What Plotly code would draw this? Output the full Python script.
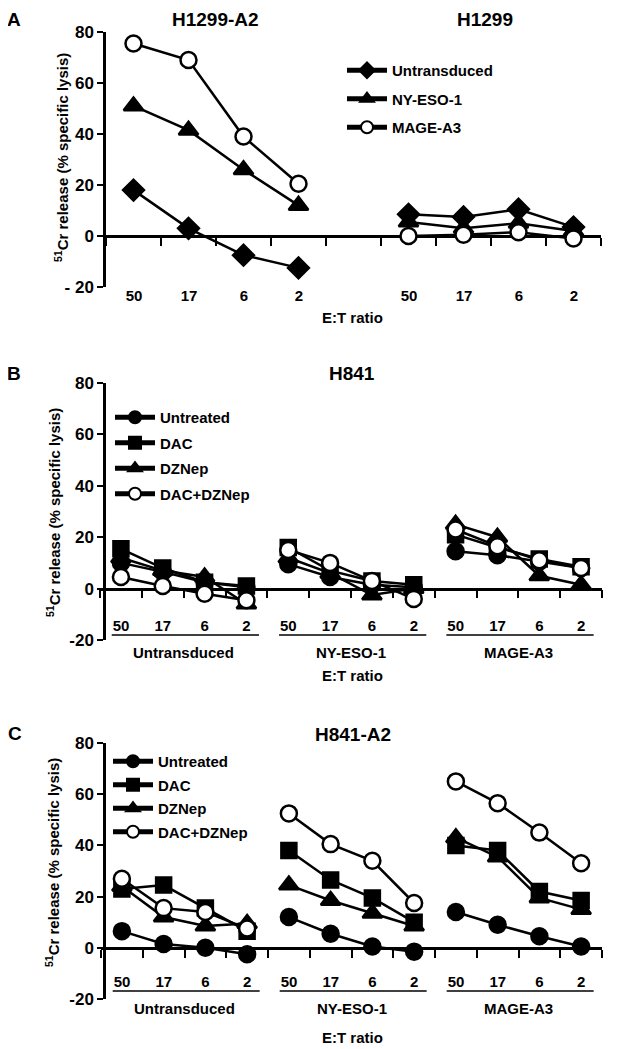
import plotly.graph_objects as go

# the page puts the figure 8px in from the window's top-left corner
OX, OY = 8, 8
FW, FH = 612, 1041
FONT = "Liberation Sans, Arial, sans-serif"

# ---- data ----
ratios = ["50", "17", "6", "2"]

# panel A
a_cells = ["H1299-A2", "H1299"]
a_series = ["Untransduced", "NY-ESO-1", "MAGE-A3"]
a_untransduced = [18, 3, -7.5, -12.5, 8.5, 7.5, 10.5, 3.5]
a_nyeso1 = [51, 41.5, 26, 12, 5.5, 3, 5, 2]
a_magea3 = [75.5, 69, 39, 20.5, 0, 0.5, 1.5, -1]

# panels B and C
groups = ["Untransduced", "NY-ESO-1", "MAGE-A3"]
treatments = ["Untreated", "DAC", "DZNep", "DAC+DZNep"]

b_untreated = [10, 6.5, 2.5, 0.5, 9.5, 4.5, 1.5, 0.5, 14.5, 13, 10.5, 8]
b_dac = [15.5, 8, 2.5, 1, 16, 7, 3, 1.5, 21, 16, 11.5, 8.5]
b_dznep = [12, 7, 4.5, -6, 12, 6, -2.5, 0, 25, 20, 5, 1.5]
b_dac_dznep = [4.5, 1, -2, -4.5, 15, 10, 3, -4, 23, 16.5, 11, 8]

c_untreated = [6.5, 1.5, 0, -2.5, 12, 5.5, 0.5, -1.5, 14, 9, 4.5, 0.5]
c_dac = [23, 24.5, 15.5, 6.5, 38, 26.5, 19.5, 10, 40, 38, 22, 18.5]
c_dznep = [24, 12, 8.5, 9.5, 24.5, 18.5, 13.5, 8.5, 43, 35.5, 19.5, 15]
c_dac_dznep = [27, 15.5, 14, 7.5, 52.5, 40.5, 34, 17.5, 65, 56.5, 45, 33]

yticks = [-20, 0, 20, 40, 60, 80]
YMIN, YMAX = -20, 80


def px_x(x):
    return (x - OX) / FW


def px_y(y):
    return 1 - (y - OY) / FH


def val_to_paper(v, dom):
    return dom[0] + (v - YMIN) / (YMAX - YMIN) * (dom[1] - dom[0])


# x positions: group g, ratio i -> slot index (panel A has an empty slot between cell lines)
a_x = [g * 5 + i for g in range(2) for i in range(4)]
bc_x = [g * 4 + i for g in range(3) for i in range(4)]
a_ticktext = ratios * 2
bc_ticktext = ratios * 3

# plot areas in window pixels: (left, right, bottom=-20, top=80)
box_a = (106, 601, 287, 32)
box_b = (100, 602, 640, 383)
box_c = (101, 602, 999, 743)


def dom(box):
    return dict(x=[px_x(box[0]), px_x(box[1])], y=[px_y(box[2]), px_y(box[3])])


sym = {"Untransduced": "diamond", "NY-ESO-1": "triangle-up", "MAGE-A3": "circle",
       "Untreated": "circle", "DAC": "square", "DZNep": "triangle-up", "DAC+DZNep": "circle"}
msize = {"diamond": 16, "triangle-up": 17, "circle": 16, "square": 15}
openmk = {"MAGE-A3", "DAC+DZNep"}

fig = go.Figure()


def add_series(xs, ys, name, xa, ya, legend, breaks):
    s = sym[name]
    fill = "white" if name in openmk else "black"
    # one line per group so the lines don't join across groups
    for k, (a, b) in enumerate(breaks):
        fig.add_trace(go.Scatter(
            x=xs[a:b], y=ys[a:b], mode="lines+markers", name=name,
            xaxis=xa, yaxis=ya, legend=legend, legendgroup=legend + name,
            showlegend=(k == 0),
            line=dict(color="black", width=2.5),
            marker=dict(symbol=s, size=msize[s], color=fill,
                        line=dict(color="black", width=2.5)),
        ))


a_breaks = [(0, 4), (4, 8)]
bc_breaks = [(0, 4), (4, 8), (8, 12)]
for name, ys in zip(a_series, [a_untransduced, a_nyeso1, a_magea3]):
    add_series(a_x, ys, name, "x", "y", "legend", a_breaks)
for name, ys in zip(treatments, [b_untreated, b_dac, b_dznep, b_dac_dznep]):
    add_series(bc_x, ys, name, "x2", "y2", "legend2", bc_breaks)
for name, ys in zip(treatments, [c_untreated, c_dac, c_dznep, c_dac_dznep]):
    add_series(bc_x, ys, name, "x3", "y3", "legend3", bc_breaks)

tickfont = dict(family=FONT, size=15, color="black", weight="bold")


def yaxis(box, neg_label):
    return dict(domain=dom(box)["y"], range=[YMIN, YMAX], showgrid=False, automargin=False,
                zeroline=False, showline=True, linecolor="black", linewidth=2.5,
                ticks="outside", ticklen=6, tickwidth=2, tickcolor="black",
                tickvals=yticks, ticktext=[neg_label] + [str(v) for v in yticks[1:]],
                tickfont=dict(tickfont, size=17), fixedrange=True)


def xaxis(box, nslots, xs, labels, label_center_px):
    # axis line sits on y=0, ticks on the slot boundaries, labels shifted to slot centres
    slot_text = [""] * nslots
    for x, t in zip(xs, labels):
        slot_text[x] = t
    d = dom(box)
    zero_px = box[3] + (YMAX - 0) / (YMAX - YMIN) * (box[2] - box[3])
    half_slot = (box[1] - box[0]) / nslots / 2
    return dict(domain=d["x"], range=[-0.5, nslots - 0.5], anchor="free",
                position=val_to_paper(0, d["y"]), layer="below traces",
                showgrid=False, zeroline=False, automargin=False, fixedrange=True,
                showline=True, linecolor="black", linewidth=2.5,
                ticks="outside", ticklen=8, tickwidth=2, tickcolor="black",
                tickvals=[k - 0.5 for k in range(nslots + 1)], ticktext=slot_text + [""],
                tickfont=tickfont, ticklabelshift=int(round(half_slot)),
                ticklabelstandoff=int(round(label_center_px - (zero_px + 19))))


fig.update_layout(
    xaxis=xaxis(box_a, 9, a_x, a_ticktext, 292),
    yaxis=yaxis(box_a, "- 20"),
    xaxis2=xaxis(box_b, 12, bc_x, bc_ticktext, 623),
    yaxis2=yaxis(box_b, "-20"),
    xaxis3=xaxis(box_c, 12, bc_x, bc_ticktext, 978),
    yaxis3=yaxis(box_c, "-20"),
)

legfont = dict(family=FONT, size=15, color="black", weight="bold")
legcommon = dict(xanchor="left", yanchor="top", font=legfont, itemwidth=40,
                 itemsizing="constant", bgcolor="rgba(0,0,0,0)", borderwidth=0)
fig.update_layout(
    legend=dict(legcommon, x=px_x(342), y=px_y(54), tracegroupgap=6),
    legend2=dict(legcommon, x=px_x(110), y=px_y(401), tracegroupgap=3),
    legend3=dict(legcommon, x=px_x(108), y=px_y(745), tracegroupgap=1),
)

ann = []


def text(x, y, s, size=15, angle=0):
    ann.append(dict(x=px_x(x), y=px_y(y), xref="paper", yref="paper", text="<b>%s</b>" % s,
                    showarrow=False, textangle=angle, xanchor="center", yanchor="middle",
                    font=dict(family=FONT, size=size, color="black")))


# panel letters and titles
text(14, 19, "A", 19)
text(14, 373, "B", 19)
text(15, 733, "C", 19)
text(215, 19, a_cells[0], 19)
text(485, 19, a_cells[1], 19)
text(352, 373, "H841", 19)
text(353, 734, "H841-A2", 19)

ylab = "<sup>51</sup>Cr release (% specific lysis)"
text(62, 158, ylab, 15, -90)
text(53, 513, ylab, 15, -90)
text(52, 863, ylab, 15, -90)

text(352, 317, "E:T ratio", 15)
text(352, 675, "E:T ratio", 15)
text(352, 1037, "E:T ratio", 15)

shapes = []
for xa, ylab_px, line_px in [("x2", 652, 635), ("x3", 1008, 991)]:
    for g, gname in enumerate(groups):
        ann.append(dict(x=g * 4 + 1.5, y=px_y(ylab_px), xref=xa, yref="paper",
                        text="<b>%s</b>" % gname, showarrow=False,
                        xanchor="center", yanchor="middle",
                        font=dict(family=FONT, size=15, color="black")))
        shapes.append(dict(type="line", xref=xa, yref="paper",
                           x0=g * 4 - 0.22, x1=g * 4 + 3.3,
                           y0=px_y(line_px), y1=px_y(line_px),
                           line=dict(color="black", width=1.5)))

fig.update_layout(annotations=ann, shapes=shapes)

fig.update_layout(
    width=FW, height=FH, margin=dict(l=0, r=0, t=0, b=0, autoexpand=False),
    plot_bgcolor="white", paper_bgcolor="white",
    font=dict(family=FONT, color="black"),
)

fig.write_html("out.html")
